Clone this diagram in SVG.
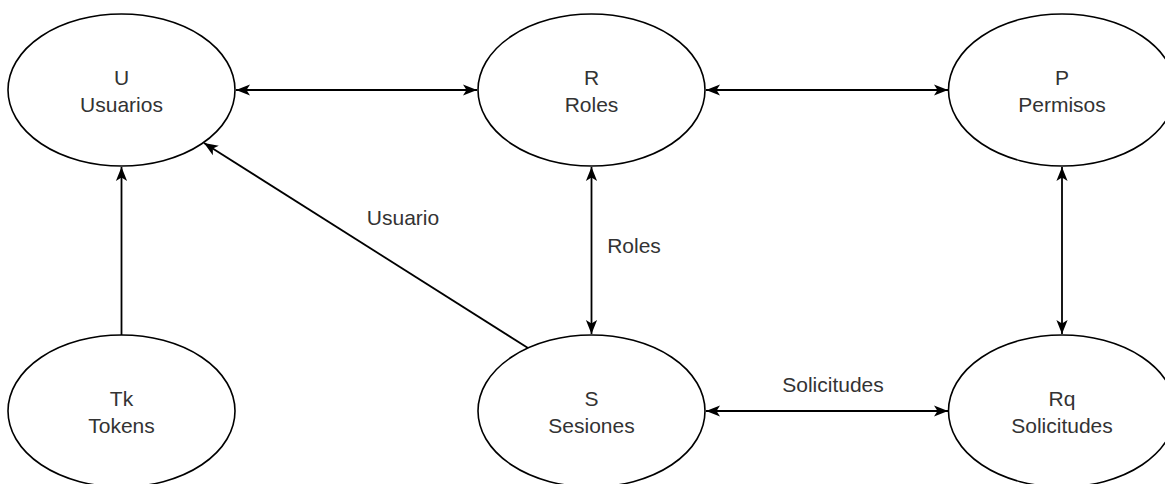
<svg xmlns="http://www.w3.org/2000/svg" width="1165" height="484" viewBox="0 0 1165 484">
  <defs>
    <marker id="arrow" markerUnits="userSpaceOnUse" viewBox="0 0 10 10" markerWidth="14" markerHeight="14" refX="10" refY="5" orient="auto-start-reverse">
      <path d="M0,1 L10,5 L0,9 L2.5,5 Z" fill="#000"/>
    </marker>
    <style>
      .node ellipse { fill: #fff; stroke: #000; stroke-width: 1.6; }
      .node text, .label { font-family: "Liberation Sans", Arial, sans-serif; font-size: 21px; fill: #333; text-anchor: middle; }
      .edge { stroke: #000; stroke-width: 1.8; fill: none; }
      .both { marker-start: url(#arrow); marker-end: url(#arrow); }
      .one { marker-end: url(#arrow); }
    </style>
  </defs>

  <g id="connectors">
    <line class="edge both" x1="236" y1="90" x2="477" y2="90"/>
    <line class="edge both" x1="706" y1="90" x2="948" y2="90"/>
    <line class="edge both" x1="706" y1="411" x2="948" y2="411"/>
    <line class="edge both" x1="591.5" y1="167" x2="591.5" y2="334"/>
    <line class="edge both" x1="1062" y1="167" x2="1062" y2="334"/>
    <line class="edge one" x1="121.5" y1="335" x2="121.5" y2="167"/>
    <line class="edge one" x1="528" y1="348" x2="204" y2="143"/>
    <text class="label" x="403" y="225">Usuario</text>
    <text class="label" x="634" y="253">Roles</text>
    <text class="label" x="833" y="392">Solicitudes</text>
  </g>

  <g id="node-usuarios" class="node">
    <ellipse cx="121.5" cy="90" rx="113.5" ry="76"/>
    <text x="121.5" y="85">U</text>
    <text x="121.5" y="112">Usuarios</text>
  </g>
  <g id="node-roles" class="node">
    <ellipse cx="591.5" cy="90" rx="113.5" ry="76"/>
    <text x="591.5" y="85">R</text>
    <text x="591.5" y="112">Roles</text>
  </g>
  <g id="node-permisos" class="node">
    <ellipse cx="1062" cy="90" rx="113.5" ry="76"/>
    <text x="1062" y="85">P</text>
    <text x="1062" y="112">Permisos</text>
  </g>
  <g id="node-tokens" class="node">
    <ellipse cx="121.5" cy="411" rx="113.5" ry="76"/>
    <text x="121.5" y="406">Tk</text>
    <text x="121.5" y="433">Tokens</text>
  </g>
  <g id="node-sesiones" class="node">
    <ellipse cx="591.5" cy="411" rx="113.5" ry="76"/>
    <text x="591.5" y="406">S</text>
    <text x="591.5" y="433">Sesiones</text>
  </g>
  <g id="node-solicitudes" class="node">
    <ellipse cx="1062" cy="411" rx="113.5" ry="76"/>
    <text x="1062" y="406">Rq</text>
    <text x="1062" y="433">Solicitudes</text>
  </g>
</svg>
